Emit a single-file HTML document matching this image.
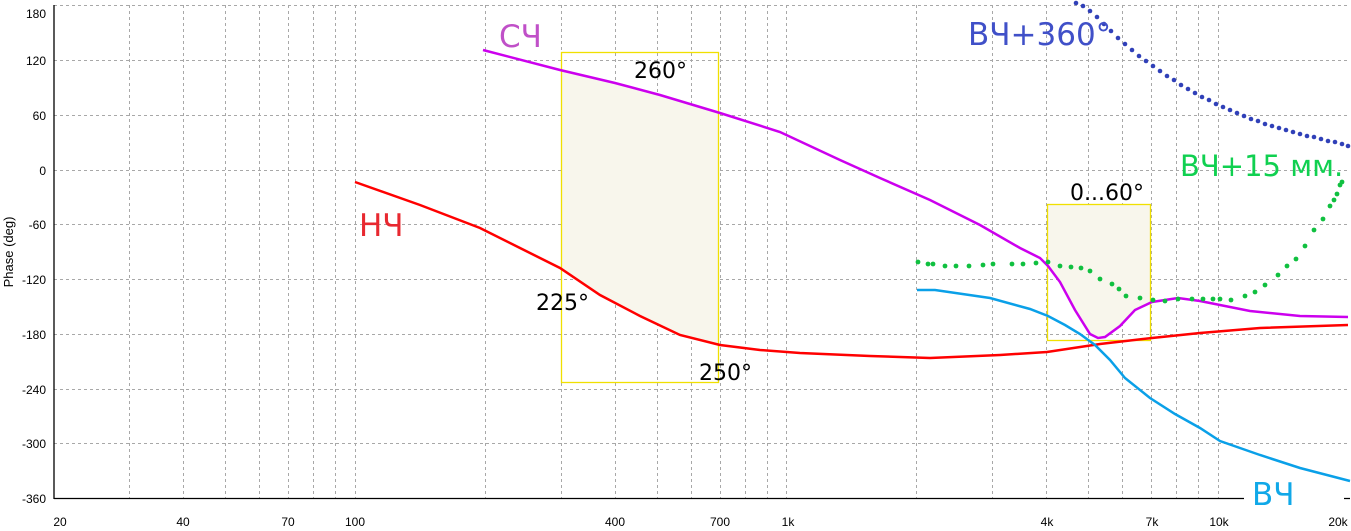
<!DOCTYPE html>
<html><head><meta charset="utf-8"><style>
html,body{margin:0;padding:0;background:#fff;}
svg{display:block;font-family:"Liberation Sans",sans-serif;}
.big{font-family:"DejaVu Sans","Liberation Sans",sans-serif;}
</style></head><body>
<svg width="1351" height="531" viewBox="0 0 1351 531" xmlns="http://www.w3.org/2000/svg">
<rect width="1351" height="531" fill="#fff"/>
<g stroke="#a8a8a8" stroke-width="1" stroke-dasharray="3,3" fill="none">
<line x1="54" y1="5.5" x2="1350" y2="5.5"/>
<line x1="54" y1="60.5" x2="1350" y2="60.5"/>
<line x1="54" y1="115.5" x2="1350" y2="115.5"/>
<line x1="54" y1="170.5" x2="1350" y2="170.5"/>
<line x1="54" y1="224.5" x2="1350" y2="224.5"/>
<line x1="54" y1="279.5" x2="1350" y2="279.5"/>
<line x1="54" y1="334.5" x2="1350" y2="334.5"/>
<line x1="54" y1="389.5" x2="1350" y2="389.5"/>
<line x1="54" y1="443.5" x2="1350" y2="443.5"/>
<line x1="129.5" y1="5" x2="129.5" y2="498"/>
<line x1="183.5" y1="5" x2="183.5" y2="498"/>
<line x1="225.5" y1="5" x2="225.5" y2="498"/>
<line x1="259.5" y1="5" x2="259.5" y2="498"/>
<line x1="288.5" y1="5" x2="288.5" y2="498"/>
<line x1="313.5" y1="5" x2="313.5" y2="498"/>
<line x1="335.5" y1="5" x2="335.5" y2="498"/>
<line x1="355.5" y1="5" x2="355.5" y2="498"/>
<line x1="485.5" y1="5" x2="485.5" y2="498"/>
<line x1="561.5" y1="5" x2="561.5" y2="498"/>
<line x1="615.5" y1="5" x2="615.5" y2="498"/>
<line x1="657.5" y1="5" x2="657.5" y2="498"/>
<line x1="691.5" y1="5" x2="691.5" y2="498"/>
<line x1="720.5" y1="5" x2="720.5" y2="498"/>
<line x1="745.5" y1="5" x2="745.5" y2="498"/>
<line x1="767.5" y1="5" x2="767.5" y2="498"/>
<line x1="786.5" y1="5" x2="786.5" y2="498"/>
<line x1="916.5" y1="5" x2="916.5" y2="498"/>
<line x1="992.5" y1="5" x2="992.5" y2="498"/>
<line x1="1046.5" y1="5" x2="1046.5" y2="498"/>
<line x1="1088.5" y1="5" x2="1088.5" y2="498"/>
<line x1="1122.5" y1="5" x2="1122.5" y2="498"/>
<line x1="1151.5" y1="5" x2="1151.5" y2="498"/>
<line x1="1176.5" y1="5" x2="1176.5" y2="498"/>
<line x1="1198.5" y1="5" x2="1198.5" y2="498"/>
<line x1="1218.5" y1="5" x2="1218.5" y2="498"/>
</g>
<polygon fill="#f8f6ec" points="561,70 615,83 660,95 719,113 719,345 680,335 640,316 600,295 561,268"/>
<polygon fill="#f8f6ec" points="1047,204 1151,204 1151,302 1135,310 1120,326 1105,336 1090,336 1075,310 1060,282 1047,266"/>
<rect x="561.5" y="52.5" width="157" height="330" fill="none" stroke="#f0e000" stroke-width="1.3"/>
<rect x="1047.5" y="204.5" width="103" height="136" fill="none" stroke="#f0e000" stroke-width="1.3"/>
<line x1="54" y1="5" x2="54" y2="499" stroke="#000" stroke-width="1.3"/>
<line x1="54" y1="498.5" x2="1350" y2="498.5" stroke="#000" stroke-width="1.3"/>
<g font-size="12" fill="#000" text-anchor="end">
<text x="46" y="18">180</text><text x="46" y="65">120</text><text x="46" y="120">60</text>
<text x="46" y="175">0</text><text x="46" y="229">-60</text><text x="46" y="284">-120</text>
<text x="46" y="339">-180</text><text x="46" y="394">-240</text><text x="46" y="448">-300</text><text x="46" y="503">-360</text>
</g>
<text transform="translate(13,252) rotate(-90)" font-size="13" text-anchor="middle">Phase (deg)</text>
<g font-size="12" fill="#000" text-anchor="middle">
<text x="60" y="526">20</text><text x="183" y="526">40</text><text x="288" y="526">70</text><text x="355" y="526">100</text>
<text x="615" y="526">400</text><text x="720" y="526">700</text><text x="788" y="526">1k</text>
<text x="1047" y="526">4k</text><text x="1152" y="526">7k</text><text x="1219" y="526">10k</text><text x="1338" y="526">20k</text>
</g>
<rect x="1244" y="484" width="100" height="22" fill="#fff"/>
<polyline fill="none" stroke="#ff0000" stroke-width="2.5" points="355,182 420,205 480,228 520,248 560,268 600,295 640,316 680,335 720,345 760,350 800,353 870,356 930,358 1000,355 1047,352 1100,344 1152,338 1200,333 1260,328 1348,325"/>
<polyline fill="none" stroke="#cc00ee" stroke-width="2.5" points="483,50 560,70 615,83 660,95 720,113 780,132 840,160 880,178 930,200 980,225 1020,248 1040,258 1048,266 1060,282 1075,310 1090,334 1098,338 1105,337 1120,326 1135,310 1152,302 1178,298 1200,301 1250,311 1300,316 1348,317"/>
<polyline fill="none" stroke="#0aa0e8" stroke-width="2.5" points="917,290 935,290 990,298 1030,309 1048,316 1065,325 1080,334 1095,345 1110,360 1125,378 1150,398 1175,414 1200,428 1220,441 1260,455 1300,468 1350,481"/>
<g fill="#10c040">
<circle cx="918" cy="262" r="2.4"/><circle cx="928" cy="264" r="2.4"/><circle cx="933" cy="264" r="2.4"/><circle cx="945" cy="266" r="2.4"/><circle cx="956" cy="266" r="2.4"/><circle cx="969" cy="266" r="2.4"/><circle cx="983" cy="265" r="2.4"/><circle cx="993" cy="264" r="2.4"/><circle cx="1012" cy="264" r="2.4"/><circle cx="1023" cy="264" r="2.4"/><circle cx="1036" cy="263" r="2.4"/><circle cx="1048" cy="262" r="2.4"/><circle cx="1060" cy="266" r="2.4"/><circle cx="1071" cy="267" r="2.4"/><circle cx="1081" cy="268" r="2.4"/><circle cx="1090" cy="271" r="2.4"/><circle cx="1100" cy="279" r="2.4"/><circle cx="1112" cy="284" r="2.4"/><circle cx="1119" cy="289" r="2.4"/><circle cx="1126" cy="296" r="2.4"/><circle cx="1140" cy="298" r="2.4"/><circle cx="1153" cy="300" r="2.4"/><circle cx="1165" cy="301" r="2.4"/><circle cx="1178" cy="299" r="2.4"/><circle cx="1192" cy="299" r="2.4"/><circle cx="1203" cy="299" r="2.4"/><circle cx="1213" cy="299" r="2.4"/><circle cx="1220" cy="299" r="2.4"/><circle cx="1231" cy="300" r="2.4"/><circle cx="1245" cy="296" r="2.4"/><circle cx="1255" cy="292" r="2.4"/><circle cx="1265" cy="285" r="2.4"/><circle cx="1278" cy="275" r="2.4"/><circle cx="1287" cy="266" r="2.4"/><circle cx="1296" cy="259" r="2.4"/><circle cx="1305" cy="246" r="2.4"/><circle cx="1314" cy="230" r="2.4"/><circle cx="1323" cy="219" r="2.4"/><circle cx="1330" cy="206" r="2.4"/><circle cx="1334" cy="200" r="2.4"/><circle cx="1337" cy="194" r="2.4"/><circle cx="1340" cy="185" r="2.4"/><circle cx="1342" cy="182" r="2.4"/>
</g>
<g fill="#3040b8">
<circle cx="1076" cy="3" r="2.3"/><circle cx="1083" cy="6" r="2.3"/><circle cx="1090" cy="11" r="2.3"/><circle cx="1097" cy="17" r="2.3"/><circle cx="1104" cy="24" r="2.3"/><circle cx="1111" cy="31" r="2.3"/><circle cx="1118" cy="38" r="2.3"/><circle cx="1125" cy="44" r="2.3"/><circle cx="1132" cy="50" r="2.3"/><circle cx="1139" cy="56" r="2.3"/><circle cx="1146" cy="61" r="2.3"/><circle cx="1153" cy="66" r="2.3"/><circle cx="1160" cy="71" r="2.3"/><circle cx="1167" cy="76" r="2.3"/><circle cx="1174" cy="80" r="2.3"/><circle cx="1181" cy="85" r="2.3"/><circle cx="1188" cy="89" r="2.3"/><circle cx="1195" cy="93" r="2.3"/><circle cx="1202" cy="97" r="2.3"/><circle cx="1209" cy="100" r="2.3"/><circle cx="1216" cy="104" r="2.3"/><circle cx="1223" cy="107" r="2.3"/><circle cx="1230" cy="110" r="2.3"/><circle cx="1237" cy="113" r="2.3"/><circle cx="1244" cy="116" r="2.3"/><circle cx="1251" cy="119" r="2.3"/><circle cx="1258" cy="121" r="2.3"/><circle cx="1265" cy="124" r="2.3"/><circle cx="1272" cy="126" r="2.3"/><circle cx="1279" cy="128" r="2.3"/><circle cx="1286" cy="130" r="2.3"/><circle cx="1293" cy="132" r="2.3"/><circle cx="1300" cy="134" r="2.3"/><circle cx="1307" cy="136" r="2.3"/><circle cx="1314" cy="137" r="2.3"/><circle cx="1321" cy="139" r="2.3"/><circle cx="1328" cy="141" r="2.3"/><circle cx="1335" cy="142" r="2.3"/><circle cx="1342" cy="144" r="2.3"/><circle cx="1348" cy="146" r="2.3"/>
</g>
<g class="big">
<text x="499" y="47" font-size="31" fill="#c050c8">СЧ</text>
<text x="359" y="236" font-size="31" fill="#e82830">НЧ</text>
<text x="968" y="45" font-size="31" fill="#4050c8">ВЧ+360°</text>
<text x="1180" y="176" font-size="29" fill="#10d050">ВЧ+15 мм.</text>
<text x="1252" y="505" font-size="31" fill="#10a8e8">ВЧ</text>
<g font-size="22" fill="#000">
<text x="634" y="78">260°</text>
<text x="536" y="310">225°</text>
<text x="699" y="380">250°</text>
<text x="1070" y="200">0...60°</text>
</g>
</g>
</svg>
</body></html>
